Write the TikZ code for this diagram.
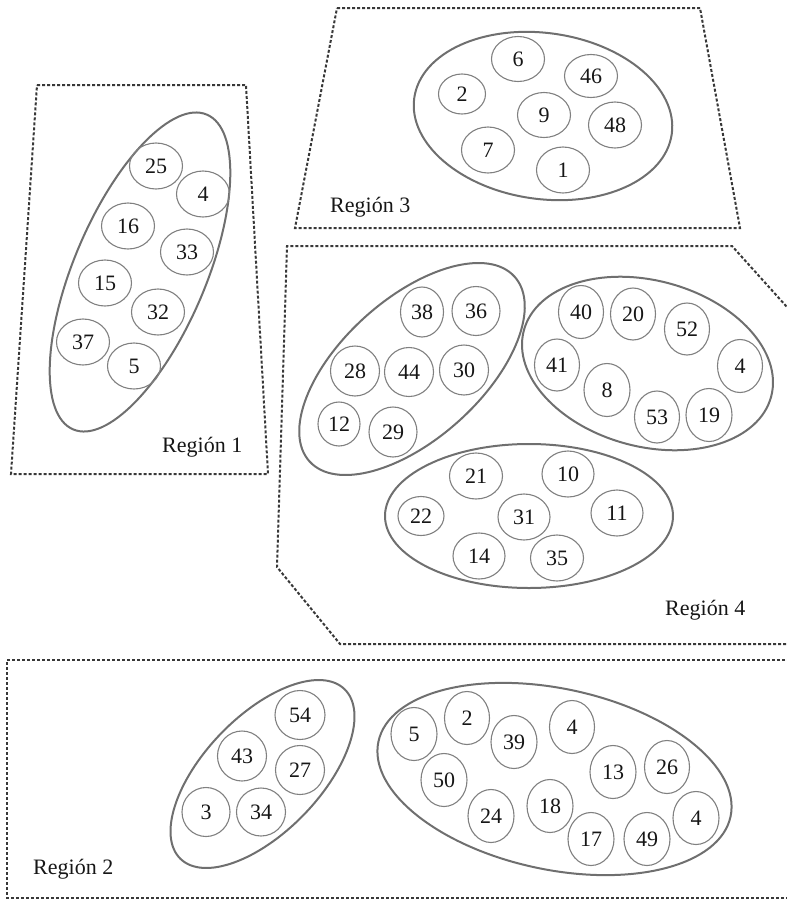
\documentclass[tikz,border=0pt]{standalone}
\usepackage{fontspec}
\setmainfont{Liberation Serif}
\usetikzlibrary{shapes.geometric}
\definecolor{dashc}{HTML}{383838}
\definecolor{bigc}{HTML}{6F6F6F}
\definecolor{smc}{HTML}{808080}
\definecolor{txt}{HTML}{161616}
\tikzset{
 reg/.style={draw=dashc, line width=2pt, dash pattern=on 3pt off 2pt},
 big/.style={ellipse, draw=bigc, line width=2pt, inner sep=0pt, outer sep=0pt},
 sm/.style={ellipse, draw=smc, line width=1.1pt, inner sep=0pt, outer sep=0pt, text=txt, font=\fontsize{22}{24}\selectfont},
 lab/.style={inner sep=0pt, anchor=base west, text=txt, font=\fontsize{22}{26}\selectfont},
}
\newcommand\cc[6]{\node[sm, minimum width=#4pt, minimum height=#5pt] (#1) at (#2,#3) {#6};}
\newcommand\bg[6]{\node[big, minimum width=#4pt, minimum height=#5pt, rotate=#6] (#1) at (#2,#3) {};}
\begin{document}
\begin{tikzpicture}[x=1pt,y=-1pt]
\useasboundingbox (0,0) rectangle (787,900);
\clip (0,0) rectangle (787,900);
% regions
\draw[reg] (37,85) -- (246,85) -- (268,474) -- (11,474) -- cycle;
\draw[reg] (337,8) -- (700,8) -- (740,228) -- (295,228) -- cycle;
\draw[reg] (850,377) -- (732,246) -- (287,246) -- (277,567) -- (340,644) -- (800,644);
\draw[reg] (800,660) -- (7,660) -- (7,898) -- (800,898);
% big ellipses
\bg{e1}{140}{272}{342}{132}{67}
\bg{e3}{543}{116}{260}{166}{-8}
\bg{e4a}{412}{369}{276}{140}{42}
\bg{e4b}{647.5}{363.5}{256}{166}{-15}
\bg{e4c}{529}{516}{288}{144}{0}
\bg{e2a}{262.5}{774}{236}{116}{46}
\bg{e2b}{554.5}{779}{360}{181}{-12}
% region 1
\cc{c1a}{156}{166}{53}{46}{25}
\cc{c1b}{203}{194}{53}{46}{4}
\cc{c1c}{128}{226}{53}{46}{16}
\cc{c1d}{187}{252}{53}{46}{33}
\cc{c1e}{105}{283}{53}{46}{15}
\cc{c1f}{158}{312}{53}{46}{32}
\cc{c1g}{83}{342}{53}{46}{37}
\cc{c1h}{134}{366}{53}{46}{5}
% region 3
\cc{c3a}{518}{59}{53}{45}{6}
\cc{c3b}{591}{76}{53}{43}{46}
\cc{c3c}{462}{94}{47}{40}{2}
\cc{c3d}{544}{115}{53}{45}{9}
\cc{c3e}{615}{125}{53}{46}{48}
\cc{c3f}{488}{150}{53}{46}{7}
\cc{c3g}{563}{170}{53}{46}{1}
% region 4 a
\cc{c4a}{422}{312}{43}{50}{38}
\cc{c4b}{476}{311}{48}{49}{36}
\cc{c4c}{355}{371}{49}{50}{28}
\cc{c4d}{409}{372}{49}{49}{44}
\cc{c4e}{464}{370}{49}{50}{30}
\cc{c4f}{339}{424}{42}{44}{12}
\cc{c4g}{393}{432}{48}{50}{29}
% region 4 b
\cc{c4h}{581}{312}{45}{53}{40}
\cc{c4i}{633}{314}{45}{52}{20}
\cc{c4j}{687}{329}{45}{52}{52}
\cc{c4k}{557}{365}{45}{52}{41}
\cc{c4l}{740}{366}{45}{53}{4}
\cc{c4m}{607}{390}{46}{53}{8}
\cc{c4n}{657}{417}{45}{52}{53}
\cc{c4o}{709}{415}{46}{53}{19}
% region 4 c
\cc{c4p}{476}{476}{53}{46}{21}
\cc{c4q}{568}{474}{52}{46}{10}
\cc{c4r}{421}{516}{46}{39}{22}
\cc{c4s}{524}{517}{52}{46}{31}
\cc{c4t}{617}{513}{52}{46}{11}
\cc{c4u}{479}{556}{52}{46}{14}
\cc{c4v}{557}{558}{53}{46}{35}
% region 2 a
\cc{c2a}{300}{715}{50}{49}{54}
\cc{c2b}{242}{756}{49}{50}{43}
\cc{c2c}{300}{770}{49}{49}{27}
\cc{c2d}{206}{812}{48}{49}{3}
\cc{c2e}{261}{812}{49}{48}{34}
% region 2 b
\cc{c2f}{414}{734}{46}{53}{5}
\cc{c2g}{467}{718}{45}{53}{2}
\cc{c2h}{514}{742}{46}{53}{39}
\cc{c2i}{572}{727}{45}{53}{4}
\cc{c2j}{444}{780}{46}{53}{50}
\cc{c2k}{613}{772}{46}{53}{13}
\cc{c2l}{667}{767}{45}{53}{26}
\cc{c2m}{491}{816}{46}{53}{24}
\cc{c2n}{550}{806}{46}{53}{18}
\cc{c2o}{696}{818}{46}{53}{4}
\cc{c2p}{591}{839}{46}{53}{17}
\cc{c2q}{647}{839}{46}{53}{49}
% labels
\node[lab] (l1) at (162,452) {Región 1};
\node[lab] (l3) at (330,212) {Región 3};
\node[lab] (l4) at (665,615) {Región 4};
\node[lab] (l2) at (33,874) {Región 2};
\end{tikzpicture}
\end{document}
